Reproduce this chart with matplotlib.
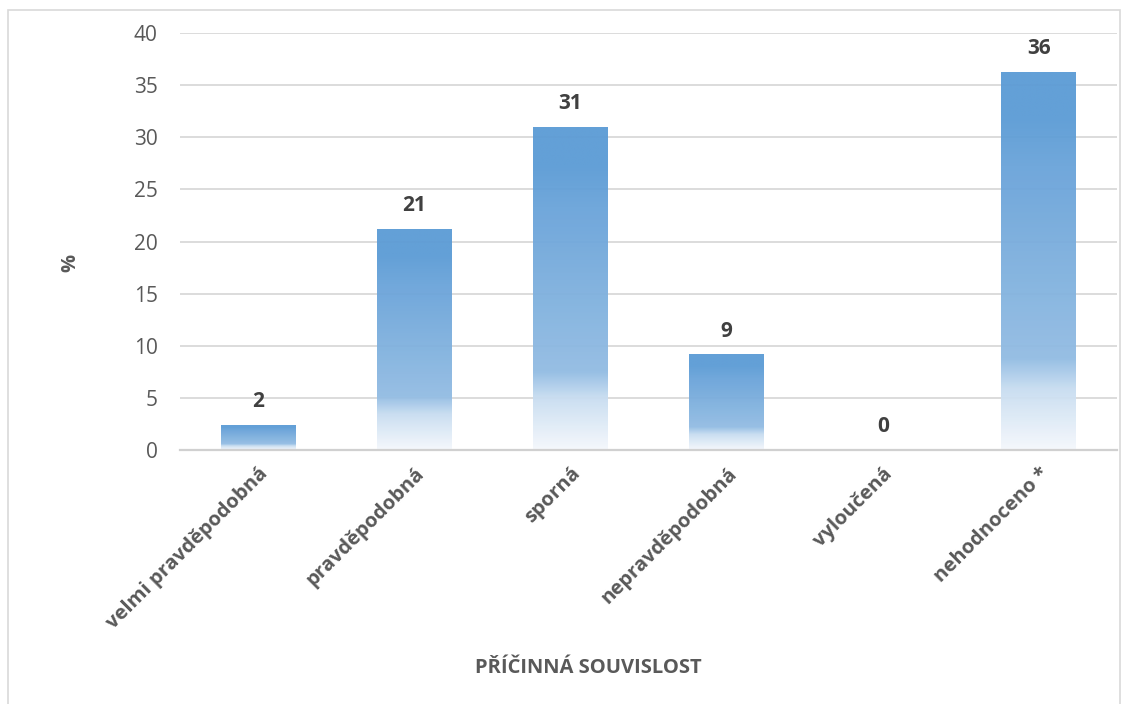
import numpy as np
import matplotlib
matplotlib.use("Agg")
import matplotlib.pyplot as plt
from matplotlib.colors import LinearSegmentedColormap
from matplotlib.patches import Rectangle

plt.rcParams['font.family'] = ['Open Sans', 'DejaVu Sans']

categories = ["velmi pravděpodobná", "pravděpodobná", "sporná",
              "nepravděpodobná", "vyloučená", "nehodnoceno *"]
values = [2.4, 21.2, 31.0, 9.2, 0.0, 36.3]
yticks = [0, 5, 10, 15, 20, 25, 30, 35, 40]
xlabel = "PŘÍČINNÁ SOUVISLOST"
ylabel = "%"

tick_color = "#595959"
label_color = "#404040"

fig = plt.figure(figsize=(11.26, 7.04), dpi=100)
fig.patches.append(Rectangle((8 / 1126, -0.01), 1112 / 1126, 1 - 10 / 704 + 0.01,
                             transform=fig.transFigure, fill=False,
                             edgecolor="#D9D9D9", linewidth=1.2))

ax = fig.add_axes([180 / 1126, (704 - 450) / 704, 937 / 1126, 417 / 704])

# vertical gradient: dark blue at the top fading to near-white at the base
grad = LinearSegmentedColormap.from_list("bar_fade", [
    (0.00, (245 / 255, 248 / 255, 252 / 255)),
    (0.16, (200 / 255, 221 / 255, 241 / 255)),
    (0.24, (146 / 255, 188 / 255, 227 / 255)),
    (0.75, (105 / 255, 163 / 255, 217 / 255)),
    (0.88, (91 / 255, 155 / 255, 213 / 255)),
    (1.00, (91 / 255, 155 / 255, 213 / 255)),
])
gradient = np.linspace(0, 1, 256).reshape(-1, 1)

x = np.arange(len(categories))
bars = ax.bar(x, values, width=0.48, color="none", edgecolor="none", zorder=2)
for rect in bars:
    h = rect.get_height()
    if h <= 0:
        continue
    x0 = rect.get_x()
    img = ax.imshow(gradient, cmap=grad, origin="lower", aspect="auto",
                    extent=(x0, x0 + rect.get_width(), 0, h), zorder=2,
                    interpolation="bilinear", alpha=0.95)
    img.set_clip_path(rect)

ax.set_xlim(-0.5, len(categories) - 0.5)
ax.set_ylim(0, 40)

for xi, v in zip(x, values):
    ax.annotate(f"{v:.0f}", (xi, v), xytext=(0, 9), textcoords="offset points",
                ha="center", va="bottom", fontsize=15, fontweight="bold",
                color=label_color)

ax.set_yticks(yticks)
ax.yaxis.grid(True, color="#D9D9D9", linewidth=1.3, zorder=0)
ax.set_axisbelow(True)
for s in ["top", "right", "left"]:
    ax.spines[s].set_visible(False)
ax.spines["bottom"].set_color("#D0D0D0")
ax.spines["bottom"].set_linewidth(1.6)
ax.tick_params(axis="y", length=0, pad=16, labelsize=15, labelcolor=tick_color)
ax.tick_params(axis="x", length=0, pad=10)
ax.set_xticks(x)
ax.set_xticklabels(categories, rotation=45, ha="right", va="top",
                   rotation_mode="anchor", fontsize=14.5, fontweight="bold",
                   color=tick_color)

fig.text(70 / 1126, 1 - 263 / 704, ylabel, rotation=90, ha="center", va="center",
         fontsize=14.5, fontweight="bold", color=tick_color)
fig.text(588 / 1126, 1 - 668 / 704, xlabel, ha="center", va="center",
         fontsize=14.5, fontweight="bold", color=tick_color)

fig.savefig("out.png", dpi=100, facecolor="white")
